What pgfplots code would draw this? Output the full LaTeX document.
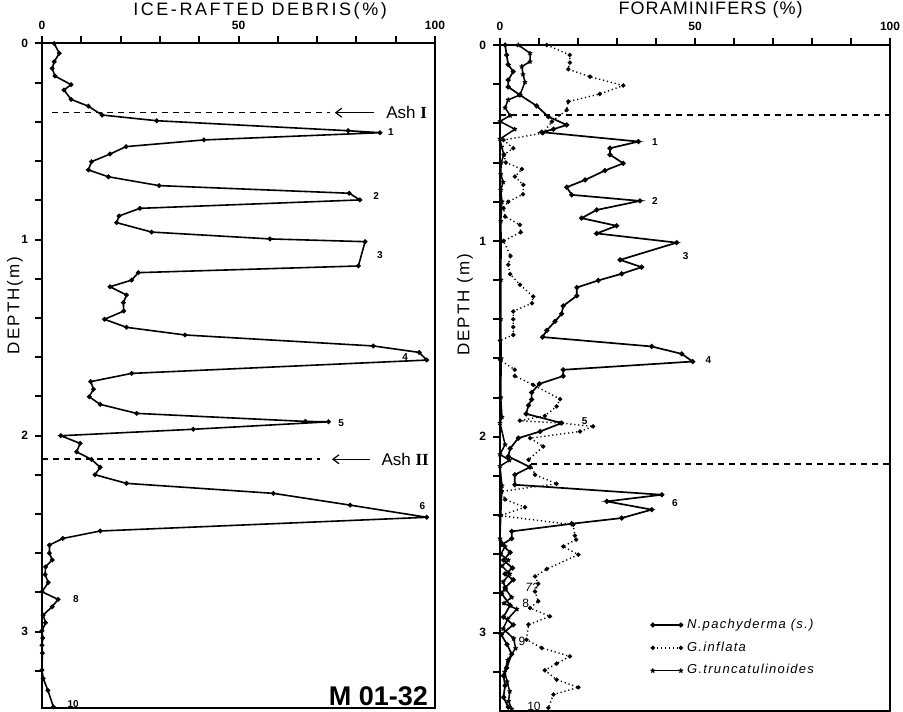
\documentclass[border=0pt]{standalone}
\usepackage{fontspec}
\setmainfont{Liberation Sans}
\newfontfamily\romnum{Liberation Serif}
\usepackage{pgfplots}
\pgfplotsset{compat=1.18}
\usetikzlibrary{arrows.meta}
\tikzset{peak/.style={font=\fontsize{5}{6}\selectfont\bfseries, anchor=west, inner sep=0pt},
  tk/.style={line width=0.9pt, black}}
\begin{document}
\begin{tikzpicture}
\useasboundingbox (0pt,0pt) rectangle (451.5pt,355.5pt);
\pgfplotsset{
  coreaxis/.style={
    scale only axis, y dir=reverse,
    xmin=0, xmax=100, ymin=0,
    xtick={0,50,100}, minor xtick={10,20,30,40,60,70,80,90},
    ytick={0,1,2,3}, minor ytick={0.2,0.4,0.6,0.8,1.2,1.4,1.6,1.8,2.2,2.4,2.6,2.8,3.2},
    xtick pos=top, xticklabel pos=top, ytick pos=left, yticklabel pos=left,
    tick align=outside, major tick length=3.5pt, minor tick length=3.5pt,
    axis line style={line width=1pt},
    tick style={draw=black, line width=1pt},
    /pgf/number format/assume math mode=true,
    ticklabel style={font=\fontsize{6}{7}\selectfont\bfseries},
    clip=false,
    ylabel style={font=\fontsize{8.5}{9}\selectfont\addfontfeatures{LetterSpace=12}, anchor=center},
    title style={anchor=base},
  },
  ird/.style={black, line width=0.8pt, mark=*, mark size=0.75pt},
  npach/.style={black, line width=0.85pt, mark=*, mark size=0.8pt},
  infl/.style={black, line width=0.7pt, dash pattern=on 0.6pt off 1.4pt, mark=*, mark size=0.7pt, mark options={solid}},
  trunc/.style={black, line width=0.75pt, mark=star, mark size=1.2pt, mark options={solid, line width=0.6pt}},
}
% ---------------- left panel ----------------
\begin{axis}[coreaxis, at={(21pt,333.75pt)}, anchor=north west,
  width=196.5pt, height=332.25pt, ymax=3.39,
  title={ICE-RAFTED DEBRIS(\%)},
  title style={at={(axis description cs:0.555,1)}, yshift=8pt, font=\fontsize{9}{10}\selectfont\addfontfeatures{LetterSpace=14}},
  ylabel={DEPTH(m)},
  ylabel style={at={(axis description cs:-0.069,0.606)}},
]
\pgfplotsinvokeforeach{0,10,20,30,40,50,60,70,80,90,100}{\draw[tk] (axis cs:#1,0) -- ++(0pt,3.5pt);}
\pgfplotsinvokeforeach{0,0.2,0.4,0.6,0.8,1,1.2,1.4,1.6,1.8,2,2.2,2.4,2.6,2.8,3,3.2}{\draw[tk] (axis cs:0,#1) -- ++(-3.5pt,0pt);}
\addplot[ird] coordinates {
(3.1,0.0) (4.4,0.05) (3.1,0.093) (2.6,0.127) (3.3,0.166) (7.4,0.21) (5.6,0.237)
(7.4,0.285) (11.8,0.32) (15.3,0.365) (29.2,0.394) (77.9,0.445) (86.0,0.455)
(41.2,0.492) (21.4,0.526) (17.3,0.564) (12.6,0.603) (11.8,0.645) (16.9,0.68)
(29.8,0.725) (78.2,0.764) (80.9,0.798) (24.9,0.841) (19.6,0.88) (19.0,0.914)
(27.9,0.962) (58.0,0.997) (82.2,1.011) (80.5,1.135) (24.5,1.169) (22.8,1.207)
(17.3,1.241) (21.5,1.283) (20.7,1.322) (20.8,1.365) (15.9,1.407) (21.5,1.448)
(36.4,1.487) (84.3,1.543) (96.0,1.576) (97.9,1.615) (22.8,1.683) (12.4,1.725)
(13.1,1.764) (12.0,1.802) (14.8,1.841) (24.1,1.887) (67.0,1.928) (72.9,1.93)
(38.5,1.968) (4.8,2.001) (9.7,2.04) (8.8,2.083) (12.6,2.122) (14.8,2.162)
(13.5,2.20) (21.5,2.244) (58.9,2.295) (78.4,2.355) (97.9,2.417) (14.8,2.487)
(5.3,2.525) (1.9,2.559) (1.9,2.60) (2.6,2.635) (0.9,2.67) (0.8,2.71) (1.6,2.75)
(0.0,2.797) (4.1,2.836) (2.6,2.873) (0.3,2.916) (0.9,2.955) (0.0,2.996)
(0.2,3.033) (0.0,3.07) (0.1,3.11) (0.0,3.196) (0.3,3.239) (1.5,3.30) (2.9,3.384)
};
\addplot[black, line width=0.8pt, dash pattern=on 3pt off 2.5pt] coordinates {(2.5,0.353) (73.3,0.353)};
\addplot[black, line width=0.8pt, dash pattern=on 3pt off 2.5pt] coordinates {(0,2.121) (70.7,2.121)};
\draw[line width=0.6pt, -{Straight Barb[length=3pt,width=4.5pt]}] (axis cs:84.5,0.353) -- (axis cs:74.5,0.353);
\draw[line width=0.6pt, -{Straight Barb[length=3pt,width=4.5pt]}] (axis cs:83.5,2.121) -- (axis cs:73.8,2.121);
\node[anchor=west, inner sep=0pt, font=\fontsize{8.5}{9}\selectfont] at (axis cs:87.5,0.353) {Ash {\romnum\bfseries I}};
\node[anchor=west, inner sep=0pt, font=\fontsize{8.5}{9}\selectfont] at (axis cs:86.3,2.121) {Ash {\romnum\bfseries II}};
\node[peak] at (axis cs:88.0,0.45) {1};
\node[peak] at (axis cs:84.2,0.78) {2};
\node[peak] at (axis cs:85.2,1.08) {3};
\node[peak] at (axis cs:91.6,1.60) {4};
\node[peak] at (axis cs:75.3,1.936) {5};
\node[peak] at (axis cs:96.0,2.36) {6};
\node[peak] at (axis cs:7.8,2.834) {8};
\node[peak] at (axis cs:6.4,3.372) {10};
\node[anchor=base east, inner sep=0pt, font=\fontsize{13.5}{14}\selectfont\bfseries] at (axis cs:98.3,3.375) {M 01-32};
\end{axis}
% ---------------- right panel ----------------
\begin{axis}[coreaxis, at={(250pt,333pt)}, anchor=north west,
  width=195pt, height=333pt, ymax=3.40,
  title={FORAMINIFERS (\%)},
  title style={at={(axis description cs:0.54,1)}, yshift=9pt, font=\fontsize{9}{10}\selectfont\addfontfeatures{LetterSpace=6}},
  ylabel={DEPTH (m)},
  ylabel style={at={(axis description cs:-0.09,0.61)}},
  legend style={at={(axis description cs:0.385,0.145)}, anchor=north west, draw=none, fill=none,
    font=\fontsize{6.5}{8}\selectfont\itshape\addfontfeatures{LetterSpace=10}, row sep=1.2pt, inner sep=0pt,
    cells={anchor=west}},
  legend image code/.code={\draw[#1, mark repeat=1, mark phase=1] plot coordinates {(0pt,0pt) (14pt,0pt)};},
]
\pgfplotsinvokeforeach{0,10,20,30,40,50,60,70,80,90,100}{\draw[tk] (axis cs:#1,0) -- ++(0pt,3.5pt);}
\pgfplotsinvokeforeach{0,0.2,0.4,0.6,0.8,1,1.2,1.4,1.6,1.8,2,2.2,2.4,2.6,2.8,3,3.2}{\draw[tk] (axis cs:0,#1) -- ++(-3.5pt,0pt);}
\addplot[npach] coordinates {
(1.3,0.0) (1.7,0.051) (2.1,0.10) (3.4,0.136) (2.1,0.179) (2.1,0.214) (5.1,0.255)
(9.4,0.311) (12.4,0.366) (17.1,0.408) (13.7,0.43) (10.7,0.445) (35.5,0.493)
(28.2,0.527) (28.2,0.56) (31.6,0.604) (26.9,0.641) (21.8,0.689) (17.1,0.726)
(18.4,0.765) (35.9,0.796) (24.8,0.842) (20.9,0.884) (29.9,0.923) (24.8,0.962)
(45.3,1.009) (30.8,1.097) (36.3,1.134) (31.2,1.168) (25.2,1.202) (19.7,1.238)
(19.7,1.28) (16.2,1.332) (15.8,1.372) (14.1,1.411) (12.0,1.457) (10.9,1.491)
(38.9,1.539) (46.6,1.577) (49.4,1.616) (16.2,1.658) (16.2,1.69) (10.1,1.73)
(8.1,1.774) (8.1,1.81) (7.3,1.84) (6.7,1.883) (15.8,1.93) (10.3,1.973)
(4.7,2.007) (2.6,2.06) (2.1,2.10) (7.7,2.155) (3.8,2.194) (3.8,2.245)
(41.5,2.296) (27.4,2.33) (38.9,2.372) (31.2,2.415) (18.4,2.444) (3.0,2.483)
(3.0,2.52) (0.5,2.55) (2.6,2.59) (0.9,2.63) (3.2,2.67) (1.3,2.70) (3.4,2.73)
(1.3,2.77) (0.4,2.80) (2.6,2.86) (0.9,2.92) (3.4,2.96) (0.3,3.01) (1.8,3.06)
(3.0,3.11) (1.7,3.18) (0.9,3.22) (1.3,3.27) (0.9,3.33) (2.1,3.38)
};
\addlegendentry{N.pachyderma (s.)}
\addplot[infl] coordinates {
(12.0,0.0) (17.9,0.051) (17.9,0.09) (17.5,0.124) (23.1,0.162) (31.6,0.207)
(25.6,0.25) (17.5,0.289) (17.1,0.332) (13.3,0.391) (11.0,0.45) (0.9,0.485)
(3.4,0.527) (1.0,0.56) (1.5,0.60) (5.6,0.634) (3.8,0.672) (6.0,0.714) (5.9,0.762)
(2.1,0.80) (0.9,0.833) (1.3,0.876) (5.1,0.918) (5.3,0.956) (0.9,1.0) (2.7,1.077)
(2.1,1.122) (2.6,1.17) (5.1,1.224) (8.5,1.284) (8.2,1.318) (3.4,1.36) (3.4,1.40)
(3.4,1.44) (3.4,1.48) (0.0,1.508) (0.0,1.607) (3.8,1.658) (3.8,1.69) (8.5,1.735)
(15.4,1.808) (14.5,1.845) (11.5,1.893) (5.1,1.918) (15.4,1.93) (23.9,1.947)
(20.5,1.973) (7.7,2.007) (11.1,2.05) (7.3,2.117) (9.0,2.194) (14.5,2.24)
(0.4,2.279) (1.3,2.32) (6.4,2.36) (0.0,2.403) (18.8,2.449) (19.2,2.505)
(19.5,2.525) (16.2,2.56) (20.1,2.602) (12.0,2.675) (9.0,2.713) (9.8,2.75)
(9.0,2.79) (9.8,2.84) (7.7,2.874) (12.8,2.917) (7.3,2.959) (6.8,3.036)
(10.7,3.078) (17.9,3.121) (14.5,3.158) (11.5,3.192) (14.5,3.24) (20.1,3.279)
(13.7,3.316) (12.4,3.384)
};
\addlegendentry{G.inflata}
\addplot[trunc] coordinates {
(4.7,0.0) (7.7,0.042) (7.7,0.085) (5.6,0.11) (5.9,0.15) (6.4,0.19) (5.1,0.255)
(2.1,0.28) (1.3,0.32) (2.6,0.36) (0.0,0.39) (3.8,0.43) (0.0,0.48) (0.4,0.52)
(1.0,0.56) (0.3,0.60) (0.2,0.66) (0.8,0.70) (0.2,0.74) (0.5,0.80) (0.2,0.90)
(0.3,1.0) (0.2,1.2) (0.2,1.4) (0.3,1.6) (0.2,1.8) (0.5,1.9) (0.0,1.93)
(1.3,2.04) (0.0,2.09) (2.4,2.12) (0.0,2.15) (0.5,2.25) (0.2,2.40) (0.0,2.52)
(1.3,2.56) (0.2,2.60) (2.1,2.63) (0.5,2.66) (2.5,2.70) (0.8,2.74) (1.5,2.78)
(3.0,2.82) (1.0,2.85) (4.3,2.88) (2.0,2.93) (0.8,2.98) (3.5,3.03) (4.0,3.08)
(2.0,3.14) (1.2,3.20) (1.8,3.25) (2.5,3.30) (2.2,3.35) (3.0,3.39)
};
\addlegendentry{G.truncatulinoides}
\addplot[black, line width=0.8pt, dash pattern=on 3pt off 2.5pt, forget plot] coordinates {(0,0.357) (100,0.357)};
\addplot[black, line width=0.8pt, dash pattern=on 3pt off 2.5pt, forget plot] coordinates {(8,2.139) (100,2.139)};
\node[peak] at (axis cs:38.9,0.493) {1};
\node[peak] at (axis cs:38.9,0.796) {2};
\node[peak] at (axis cs:46.8,1.077) {3};
\node[peak] at (axis cs:52.6,1.607) {4};
\node[peak] at (axis cs:20.9,1.918) {5};
\node[peak] at (axis cs:44.0,2.338) {6};
\node[peak, font=\fontsize{6}{7}\selectfont\itshape] at (axis cs:6.4,2.77) {7?};
\node[peak, font=\fontsize{6}{7}\selectfont] at (axis cs:5.6,2.852) {8};
\node[peak, font=\fontsize{6}{7}\selectfont] at (axis cs:4.7,3.044) {9};
\node[peak, font=\fontsize{6}{7}\selectfont] at (axis cs:6.9,3.376) {10};
\end{axis}
\end{tikzpicture}
\end{document}
